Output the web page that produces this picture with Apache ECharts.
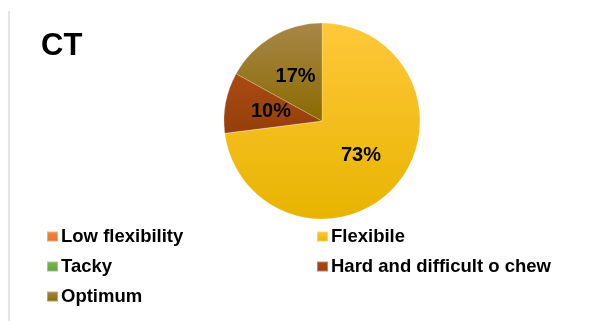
<!DOCTYPE html>
<html>
<head>
<meta charset="utf-8">
<script src="https://cdn.jsdelivr.net/npm/echarts@6/dist/echarts.min.js"></script>
<style>
html,body{margin:0;padding:0;background:#fff;}
#c{width:611px;height:321px;}
</style>
</head>
<body>
<div id="c"></div>
<script>
const title = 'CT';
const categories = ['Low flexibility', 'Flexibile', 'Tacky', 'Hard and difficult o chew', 'Optimum'];
const values = [0, 73, 0, 10, 17];
const colorsTop = ['#F28B45', '#FFC83A', '#7DB856', '#AA4A14', '#A8874A'];
const colorsBottom = ['#E5722A', '#E8B400', '#64A03D', '#953F0A', '#8A6A00'];

const chart = echarts.init(document.getElementById('c'), null, {renderer: 'canvas'});

function grad(i) {
  return new echarts.graphic.LinearGradient(0, 0, 0, 1, [
    {offset: 0, color: colorsTop[i]},
    {offset: 1, color: colorsBottom[i]}
  ]);
}

const data = categories.map((name, i) => ({
  name: name,
  value: values[i],
  itemStyle: {color: grad(i)},
  label: {show: values[i] > 0},
  labelLine: {show: false}
}));

const legendCommon = {
  orient: 'vertical',
  top: 227,
  padding: 0,
  itemWidth: 11,
  itemHeight: 10,
  itemGap: 11,
  icon: 'rect',
  selectedMode: false,
  textStyle: {fontFamily: 'Liberation Sans, Arial, sans-serif', fontWeight: 'bold', fontSize: 18.5, color: '#000', padding: [0, 0, 0, -2]}
};

chart.setOption({
  animation: false,
  backgroundColor: '#fff',
  title: {
    text: title,
    left: 36,
    top: 26,
    textStyle: {fontFamily: 'Liberation Sans, Arial, sans-serif', fontWeight: 'bold', fontSize: 31, color: '#000'}
  },
  legend: [
    Object.assign({}, legendCommon, {left: 46, data: [categories[0], categories[2], categories[4]]}),
    Object.assign({}, legendCommon, {left: 316, data: [categories[1], categories[3]]})
  ],
  graphic: [{
    type: 'rect',
    shape: {x: 8, y: 11, width: 2, height: 310},
    style: {fill: '#E1E5EC'},
    silent: true
  }],
  series: [{
    type: 'pie',
    center: [322, 121],
    radius: [0, 98],
    startAngle: 90,
    clockwise: true,
    avoidLabelOverlap: false,
    data: data,
    itemStyle: {borderColor: 'rgba(255,255,255,0.35)', borderWidth: 0.6},
    label: {
      position: 'inside',
      formatter: p => p.value + '%',
      fontFamily: 'Liberation Sans, Arial, sans-serif',
      fontWeight: 'bold',
      fontSize: 20,
      color: '#000'
    },
    emphasis: {disabled: true}
  }]
});
</script>
</body>
</html>
